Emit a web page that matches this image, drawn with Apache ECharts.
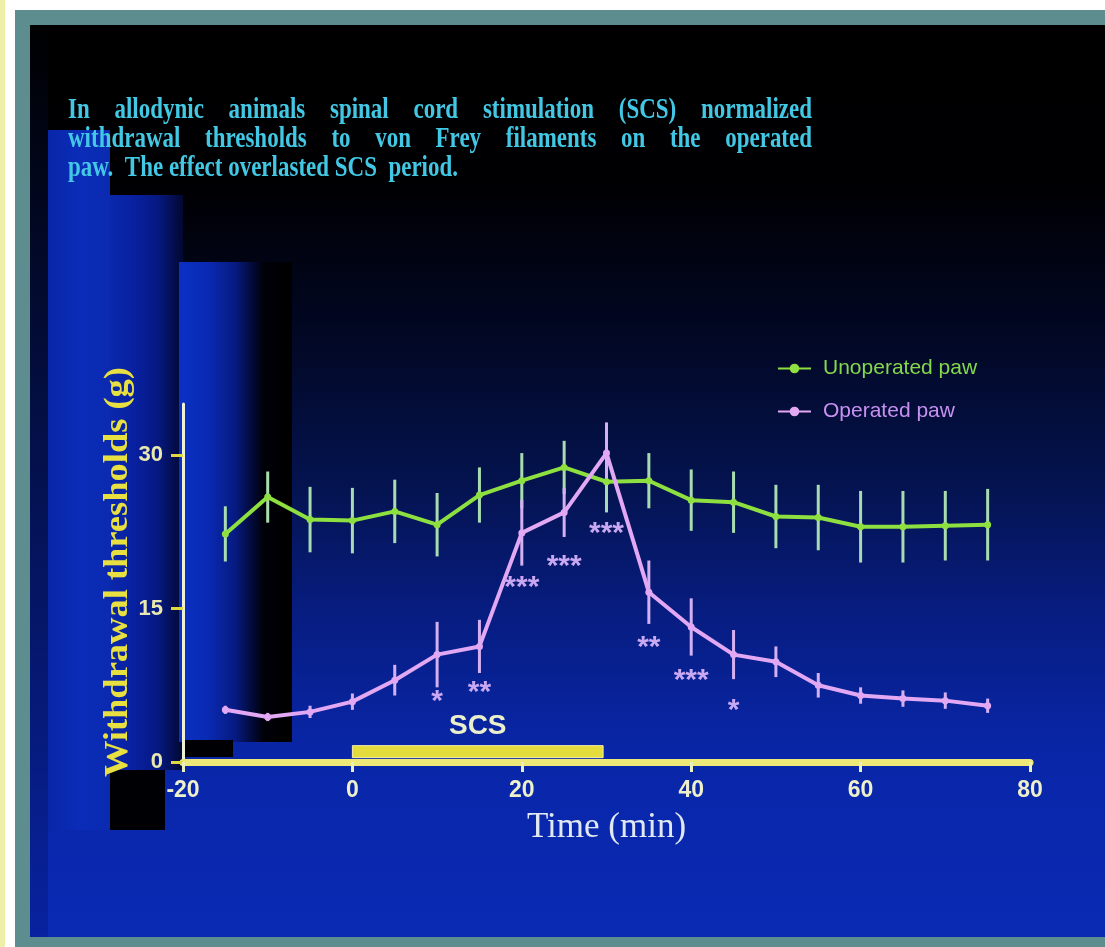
<!DOCTYPE html>
<html>
  <head>
    <meta charset="utf-8" />
    <title>SCS withdrawal thresholds</title>
    <script src="https://cdn.jsdelivr.net/npm/echarts@6/dist/echarts.min.js"></script>
    <style>
      * {
        margin: 0;
        padding: 0;
        box-sizing: border-box;
      }
      html,
      body {
        background: #ffffff;
      }
    </style>
  </head>
  <body>
    <div id="main" style="width: 1105px; height: 947px"></div>
    <script type="text/javascript">
      // time points (min), SCS is switched on at 0
      const times = [-15, -10, -5, 0, 5, 10, 15, 20, 25, 30, 35, 40, 45, 50, 55, 60, 65, 70, 75];
      const unoperatedMean = [22.3, 25.9, 23.7, 23.6, 24.5, 23.2, 26.1, 27.5, 28.8, 27.4, 27.5, 25.6, 25.4, 24.0, 23.9, 23.0, 23.0, 23.1, 23.2];
      const unoperatedErr = [2.7, 2.5, 3.2, 3.2, 3.1, 3.1, 2.7, 2.7, 2.6, 3.0, 2.7, 3.0, 3.0, 3.1, 3.2, 3.5, 3.5, 3.4, 3.5];
      const operatedMean = [5.1, 4.4, 4.9, 5.9, 8.0, 10.5, 11.3, 22.4, 24.4, 30.2, 16.6, 13.2, 10.5, 9.8, 7.5, 6.5, 6.2, 6.0, 5.5];
      const operatedErr = [0.4, 0.4, 0.6, 0.8, 1.5, 3.2, 2.6, 3.2, 2.4, 3.0, 3.1, 2.8, 2.4, 1.5, 1.2, 0.8, 0.8, 0.8, 0.7];

      // significance marks under the operated paw curve
      const starTimes = [10, 15, 20, 25, 30, 35, 40, 45];
      const starMarks = ["*", "**", "***", "***", "***", "**", "***", "*"];
      const starLevels = [6.6, 7.5, 17.7, 19.8, 23.0, 11.9, 8.6, 5.7];

      const scsPeriod = [0, 29.6];
      const scsLevel = 1.6;
      const yTicks = [0, 15, 30];

      const titleLines = [
        "In  allodynic animals spinal cord stimulation (SCS)  normalized",
        "withdrawal thresholds to von Frey filaments on the operated",
        "paw.  The effect overlasted SCS  period.",
      ];
      const yName = "Withdrawal thresholds (g)";

      const GREEN = "#8ee040";
      const GREEN_BAR = "#a8dcb0";
      const PINK = "#e2a8f4";
      const PINK_BAR = "#d4b0f2";

      var myChart = echarts.init(document.getElementById("main"));

      // text of the slide is squeezed horizontally, measure to fit
      const ctx = document.createElement("canvas").getContext("2d");
      const titleFont = 'bold 29px "Liberation Serif"';
      ctx.font = titleFont;
      const titleLeft = 68;
      const titleRight = 812;
      const squeeze = 390 / ctx.measureText(titleLines[2]).width;
      const titleGraphics = [];
      titleLines.forEach((line, li) => {
        const y = 111 + li * 29;
        const txtStyle = {
          font: titleFont,
          fill: "#42c8e4",
          verticalAlign: "middle",
          shadowColor: "rgba(60,200,230,0.6)",
          shadowBlur: 3,
        };
        if (li < 2) {
          const words = line.split(/\s+/);
          const widths = words.map((w) => ctx.measureText(w).width * squeeze);
          const gap =
            (titleRight - titleLeft - widths.reduce((a, b) => a + b, 0)) /
            (words.length - 1);
          let x = titleLeft;
          words.forEach((w, wi) => {
            titleGraphics.push({
              type: "text",
              x: x,
              y: y,
              scaleX: squeeze,
              z: 10,
              style: Object.assign({ text: w }, txtStyle),
            });
            x += widths[wi] + gap;
          });
        } else {
          titleGraphics.push({
            type: "text",
            x: titleLeft,
            y: y,
            scaleX: squeeze,
            z: 10,
            style: Object.assign({ text: line }, txtStyle),
          });
        }
      });

      const yNameFont = 'bold 33px "Liberation Serif"';
      ctx.font = yNameFont;
      const yNameScale = 410 / ctx.measureText(yName).width;

      function hGrad(stops) {
        return new echarts.graphic.LinearGradient(
          0, 0, 1, 0,
          stops.map((c, i) => ({ offset: i / (stops.length - 1), color: c }))
        );
      }

      const backGraphics = [
        { type: "rect", z: -20, shape: { x: 0, y: 0, width: 5, height: 947 }, style: { fill: "#eef0a8" } },
        { type: "rect", z: -20, shape: { x: 15, y: 10, width: 1090, height: 937 }, style: { fill: "#5e8d8f" } },
        {
          type: "rect",
          z: -19,
          shape: { x: 30, y: 25, width: 1075, height: 912 },
          style: {
            fill: new echarts.graphic.LinearGradient(0, 0, 0, 1, [
              { offset: 0, color: "#000000" },
              { offset: 0.18, color: "#000003" },
              { offset: 0.35, color: "#020826" },
              { offset: 0.5, color: "#04134e" },
              { offset: 0.65, color: "#071d82" },
              { offset: 0.8, color: "#0926a8" },
              { offset: 1, color: "#0a2ab4" },
            ]),
          },
        },
        { type: "rect", z: -18, shape: { x: 30, y: 25, width: 18, height: 912 }, style: { fill: new echarts.graphic.LinearGradient(0, 0, 0, 1, [{ offset: 0, color: "#000000" }, { offset: 1, color: "#0822a0" }]) } },
        { type: "rect", z: -18, shape: { x: 48, y: 130, width: 62, height: 700 }, style: { fill: hGrad(["#0826a8", "#0a2cb8", "#0a2ab0"]) } },
        { type: "rect", z: -18, shape: { x: 110, y: 195, width: 73, height: 575 }, style: { fill: hGrad(["#0a28ac", "#0820a0", "#061880", "#020830"]) } },
        { type: "rect", z: -17, shape: { x: 179, y: 262, width: 113, height: 480 }, style: { fill: hGrad(["#0a30c4", "#0a2ab4", "#061a80", "#000008", "#000000"]) } },
        { type: "rect", z: -17, shape: { x: 110, y: 770, width: 55, height: 60 }, style: { fill: "#000004" } },
        { type: "rect", z: -17, shape: { x: 183, y: 740, width: 50, height: 17 }, style: { fill: "#000004" } },
        {
          type: "text",
          x: 118,
          y: 572,
          rotation: Math.PI / 2,
          scaleX: yNameScale,
          z: 10,
          style: {
            text: yName,
            font: yNameFont,
            fill: "#e8e040",
            align: "center",
            verticalAlign: "middle",
          },
        },
      ];

      function errorBars(mean, err, color) {
        return {
          type: "custom",
          silent: true,
          z: 3,
          renderItem: function (params, api) {
            const x = api.value(0);
            const top = api.coord([x, api.value(1) + api.value(2)]);
            const bot = api.coord([x, api.value(1) - api.value(2)]);
            return {
              type: "line",
              shape: { x1: top[0], y1: top[1], x2: bot[0], y2: bot[1] },
              style: { stroke: color, lineWidth: 3 },
            };
          },
          data: times.map((t, i) => [t, mean[i], err[i]]),
        };
      }

      var option = {
        backgroundColor: "#ffffff",
        animation: false,
        graphic: backGraphics.concat(titleGraphics),
        legend: {
          orient: "vertical",
          left: 772,
          top: 353,
          itemWidth: 33,
          itemHeight: 12,
          itemGap: 22,
          textStyle: {
            fontFamily: "Liberation Sans",
            fontSize: 21,
            padding: [0, 0, 0, 7],
          },
          data: [
            { name: "Unoperated paw", textStyle: { color: "#84d84c" } },
            { name: "Operated paw", textStyle: { color: "#c890f0" } },
          ],
        },
        grid: { left: 183, right: 75, top: 404, bottom: 185 },
        xAxis: {
          type: "value",
          min: -20,
          max: 80,
          interval: 20,
          name: "Time (min)",
          nameLocation: "middle",
          nameGap: 48,
          nameTextStyle: {
            fontFamily: "Liberation Serif",
            fontSize: 35,
            color: "#e0e8f2",
          },
          splitLine: { show: false },
          axisLine: {
            onZero: false,
            lineStyle: { color: "#eee878", width: 7 },
          },
          axisTick: { length: 10, lineStyle: { color: "#e8f0c0", width: 3 } },
          axisLabel: {
            margin: 17,
            fontFamily: "Liberation Sans",
            fontWeight: "bold",
            fontSize: 23,
            color: "#eef0cc",
          },
        },
        yAxis: {
          type: "value",
          min: 0,
          max: 35,
          splitLine: { show: false },
          axisLine: { onZero: false, lineStyle: { color: "#eef2d0", width: 3 } },
          axisTick: {
            customValues: yTicks,
            length: 12,
            lineStyle: { color: "#e0d840", width: 3 },
          },
          axisLabel: {
            customValues: yTicks,
            margin: 20,
            fontFamily: "Liberation Sans",
            fontWeight: "bold",
            fontSize: 22,
            color: "#e8e8b0",
          },
        },
        series: [
          errorBars(unoperatedMean, unoperatedErr, GREEN_BAR),
          {
            name: "Unoperated paw",
            type: "line",
            z: 4,
            symbol: "circle",
            symbolSize: 7,
            itemStyle: { color: GREEN },
            lineStyle: { color: GREEN, width: 4 },
            data: times.map((t, i) => [t, unoperatedMean[i]]),
          },
          errorBars(operatedMean, operatedErr, PINK_BAR),
          {
            name: "Operated paw",
            type: "line",
            z: 5,
            symbol: "circle",
            symbolSize: 7,
            itemStyle: { color: PINK },
            lineStyle: { color: PINK, width: 4 },
            data: times.map((t, i) => [t, operatedMean[i]]),
          },
          {
            type: "custom",
            silent: true,
            z: 6,
            renderItem: function (params, api) {
              const p = api.coord([api.value(0), api.value(1)]);
              return {
                type: "text",
                x: p[0],
                y: p[1] + 7,
                style: {
                  text: starMarks[params.dataIndex],
                  font: 'bold 30px "Liberation Sans"',
                  fill: "#c8a8f2",
                  align: "center",
                  verticalAlign: "middle",
                },
              };
            },
            data: starTimes.map((t, i) => [t, starLevels[i]]),
          },
          {
            type: "custom",
            silent: true,
            z: 6,
            renderItem: function (params, api) {
              const a = api.coord([api.value(0), api.value(2)]);
              const b = api.coord([api.value(1), api.value(2)]);
              return {
                type: "group",
                children: [
                  {
                    type: "rect",
                    shape: { x: a[0], y: a[1], width: b[0] - a[0], height: 12 },
                    style: { fill: "#e4dc3c", stroke: "#f4f0a0", lineWidth: 1 },
                  },
                  {
                    type: "text",
                    x: (a[0] + b[0]) / 2,
                    y: a[1] - 19,
                    style: {
                      text: "SCS",
                      font: 'bold 28px "Liberation Sans"',
                      fill: "#eaf0cc",
                      align: "center",
                      verticalAlign: "middle",
                    },
                  },
                ],
              };
            },
            data: [[scsPeriod[0], scsPeriod[1], scsLevel]],
          },
        ],
      };

      myChart.setOption(option);
    </script>
  </body>
</html>
